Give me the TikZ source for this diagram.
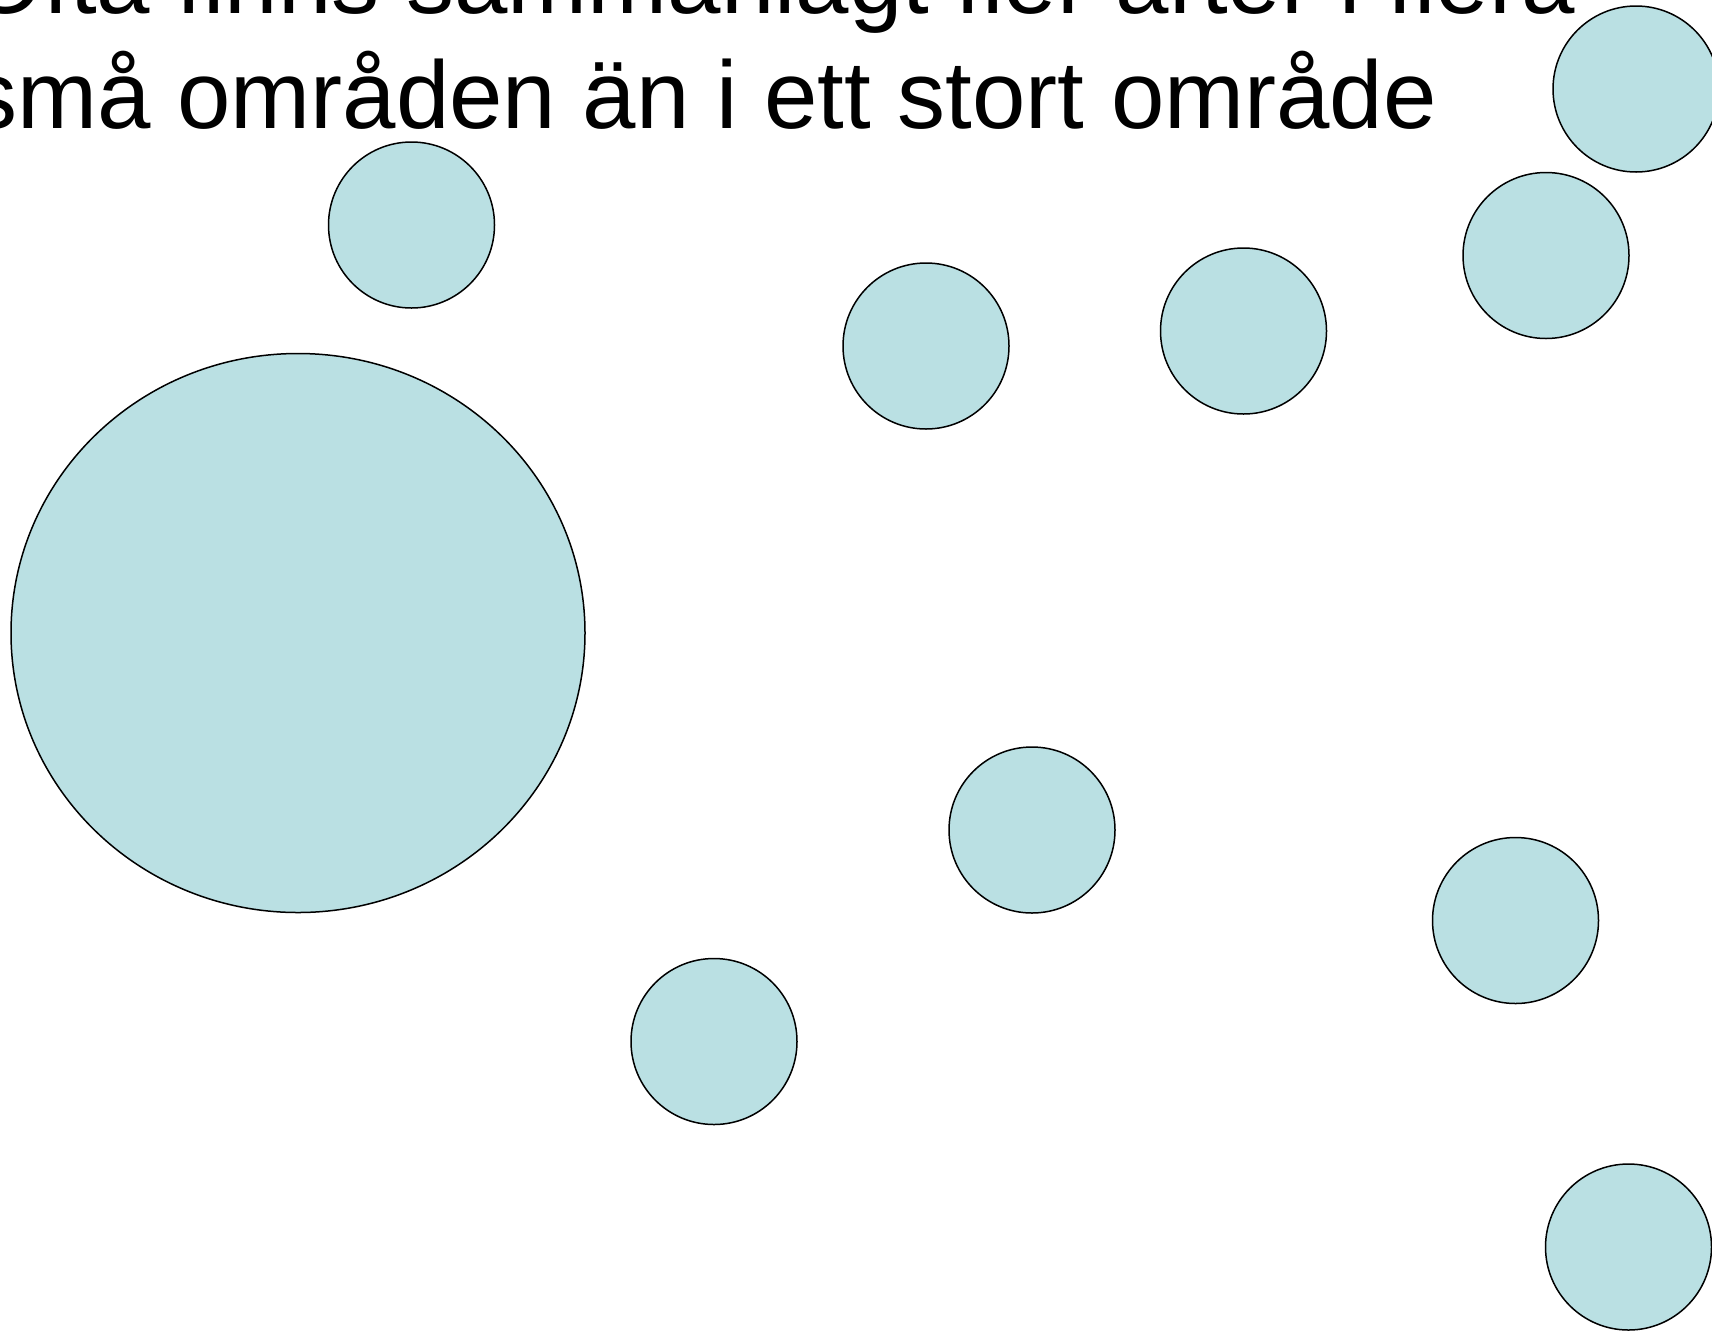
\documentclass[tikz,border=0pt]{standalone}
\usepackage{fontspec}
\usetikzlibrary{shapes.geometric}
\setmainfont{Liberation Sans}
\definecolor{pool}{HTML}{BAE0E3}
\begin{document}
\begin{tikzpicture}[x=1pt,y=-1pt,
  area/.style={draw=black,fill=pool,line width=1.5pt},
  small/.style={area,circle,minimum size=166pt,inner sep=0pt},
  txt/.style={anchor=base east,inner sep=0pt,font=\fontsize{96}{112}\selectfont}]
\useasboundingbox (0,0) rectangle (1712,1331);
\clip (0,0) rectangle (1712,1331);
\node[txt] (l1) at (1575,13) {Ofta finns sammanlagt fler arter i flera};
\node[txt] (l2) at (1437,128) {små områden än i ett stort område};
\node[area,ellipse,minimum width=574pt,minimum height=559pt,inner sep=0pt] (big) at (298,633) {};
\node[small] (c1) at (1636,89) {};
\node[small] (c2) at (411.5,225) {};
\node[small] (c3) at (926,346) {};
\node[small] (c4) at (1243.5,331) {};
\node[small] (c5) at (1546,255.5) {};
\node[small] (c6) at (1032,830) {};
\node[small] (c7) at (714,1041.5) {};
\node[small] (c8) at (1515.5,920.5) {};
\node[small] (c9) at (1628.5,1247) {};
\end{tikzpicture}
\end{document}
